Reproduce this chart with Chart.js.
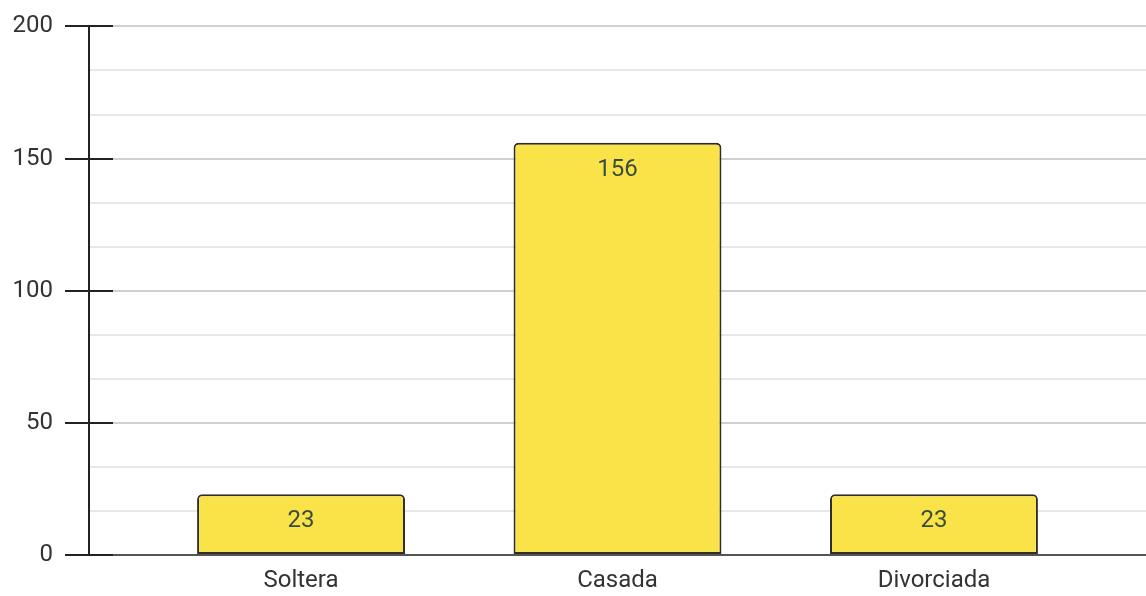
<!DOCTYPE html>
<html>
<head>
<meta charset="utf-8">
<script src="https://cdn.jsdelivr.net/npm/chart.js@4/dist/chart.umd.min.js"></script>
<style>
  html, body { margin: 0; padding: 0; background: #fff; overflow: hidden; }
  #chart { display: block; }
</style>
</head>
<body>
<canvas id="chart" width="1146" height="596"></canvas>
<script>
const categories = ['Soltera', 'Casada', 'Divorciada'];
const counts = [23, 156, 23];
const yMajorTicks = [0, 50, 100, 150, 200];
const yMinorPerMajor = 3;

const FONT = 'Roboto, "Liberation Sans", Arial, sans-serif';
const isMajor = v => yMajorTicks.some(m => Math.abs(m - v) < 1e-6);

// major ticks plus the light minor lines between them
const yAllTicks = [];
yMajorTicks.forEach((v, i) => {
  yAllTicks.push(v);
  const next = yMajorTicks[i + 1];
  if (next === undefined) return;
  for (let k = 1; k < yMinorPerMajor; k++) yAllTicks.push(v + (next - v) * k / yMinorPerMajor);
});

// dark tick segment that continues inside the plot, and the value labels
const ExtrasPlugin = {
  id: 'extras',
  afterDatasetsDraw(chart) {
    const { ctx, chartArea, scales } = chart;
    ctx.save();
    ctx.strokeStyle = '#222';
    ctx.lineWidth = 2;
    yMajorTicks.forEach(v => {
      const y = Math.round(scales.y.getPixelForValue(v));
      ctx.beginPath();
      ctx.moveTo(chartArea.left, y);
      ctx.lineTo(chartArea.left + 24, y);
      ctx.stroke();
    });
    const meta = chart.getDatasetMeta(0);
    ctx.fillStyle = '#3a4d3c';
    ctx.font = '24px ' + FONT;
    ctx.textAlign = 'center';
    ctx.textBaseline = 'middle';
    meta.data.forEach((bar, i) => {
      ctx.fillText(String(counts[i]), bar.x, bar.y + 27);
    });
    ctx.restore();
  }
};

new Chart(document.getElementById('chart'), {
  type: 'bar',
  data: {
    datasets: [{
      data: counts.map((v, i) => ({ x: i, y: v })),
      backgroundColor: '#f9e349',
      borderColor: '#2e2e2e',
      borderWidth: 2,
      borderSkipped: false,
      borderRadius: { topLeft: 5, topRight: 5, bottomLeft: 0, bottomRight: 0 },
      categoryPercentage: 1,
      barPercentage: 0.657
    }]
  },
  options: {
    responsive: false,
    animation: false,
    layout: { padding: { top: 25, right: 0, left: 0, bottom: 0 } },
    plugins: { legend: { display: false }, tooltip: { enabled: false } },
    scales: {
      x: {
        type: 'linear',
        offset: false,
        bounds: 'data',
        min: -0.67,
        max: 2.67,
        afterBuildTicks: s => { s.ticks = categories.map((_, i) => ({ value: i })); },
        afterFit: s => { s.height = 41; },
        grid: { display: false, drawTicks: false, offset: false },
        border: { display: true, color: '#555', width: 2 },
        ticks: {
          padding: 12,
          color: '#333',
          font: { family: FONT, size: 24 },
          callback: v => categories[v] ?? ''
        }
      },
      y: {
        min: 0,
        max: 200,
        afterBuildTicks: s => { s.ticks = yAllTicks.map(v => ({ value: v })); },
        afterFit: s => { s.width = 89; },
        grid: {
          color: c => isMajor(c.tick.value) ? '#d0d0d0' : '#e8e8e8',
          lineWidth: 2,
          tickLength: 24,
          tickColor: c => isMajor(c.tick.value) ? '#222' : 'rgba(0,0,0,0)',
          tickWidth: 2
        },
        border: { display: true, color: '#222', width: 2 },
        ticks: {
          padding: 12,
          color: '#333',
          font: { family: FONT, size: 24 },
          autoSkip: false,
          callback: v => isMajor(v) ? String(Math.round(v)) : ''
        }
      }
    }
  },
  plugins: [ExtrasPlugin]
});
</script>
</body>
</html>
